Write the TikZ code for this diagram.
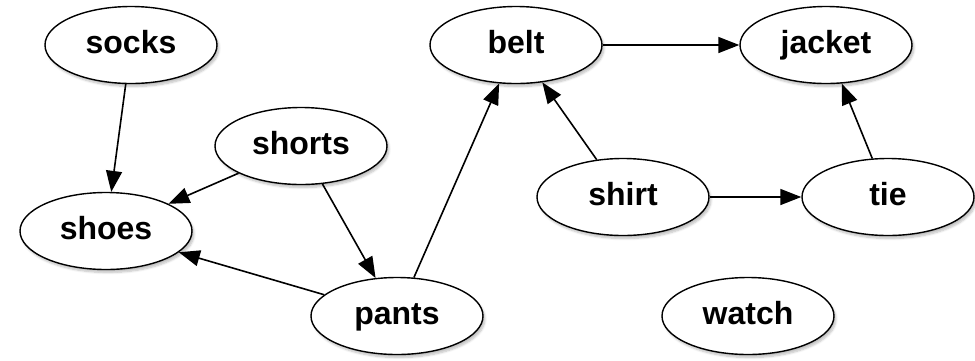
\documentclass[tikz,border=0pt]{standalone}
\usepackage{fontspec}
\setmainfont{Liberation Sans}
\usetikzlibrary{shapes.geometric,arrows.meta,shadows.blur}
\begin{document}
\begin{tikzpicture}[x=1pt,y=-1pt,
  vert/.style={ellipse,draw=black,line width=1.4pt,fill=white,
    minimum width=172pt,minimum height=77pt,inner sep=0pt,
    text height=23pt,text depth=7pt,
    font=\fontsize{32}{38}\selectfont\bfseries,
    blur shadow={shadow xshift=2pt,shadow yshift=-3pt,shadow opacity=25,shadow blur steps=6}},
  link/.style={draw=black,line width=1.6pt,-{Triangle[length=21pt,width=16pt]}}]
\useasboundingbox (0,0) rectangle (975,360);
\node[vert] (socks)  at (131,45)  {socks};
\node[vert] (belt)   at (516,45)  {belt};
\node[vert] (jacket) at (826,45)  {jacket};
\node[vert] (shorts) at (301,146) {shorts};
\node[vert] (shirt)  at (623,197) {shirt};
\node[vert] (tie)    at (888,197) {tie};
\node[vert] (shoes)  at (106,231) {shoes};
\node[vert] (pants)  at (397,316) {pants};
\node[vert] (watch)  at (748,316) {watch};
\draw[link] (socks) -- (shoes);
\draw[link] (shorts) -- (shoes);
\draw[link] (shorts) -- (pants);
\draw[link] (pants) -- (shoes);
\draw[link] (pants) -- (belt);
\draw[link] (shirt) -- (belt);
\draw[link] (shirt) -- (tie);
\draw[link] (tie) -- (jacket);
\draw[link] (belt) -- (jacket);
\end{tikzpicture}
\end{document}
